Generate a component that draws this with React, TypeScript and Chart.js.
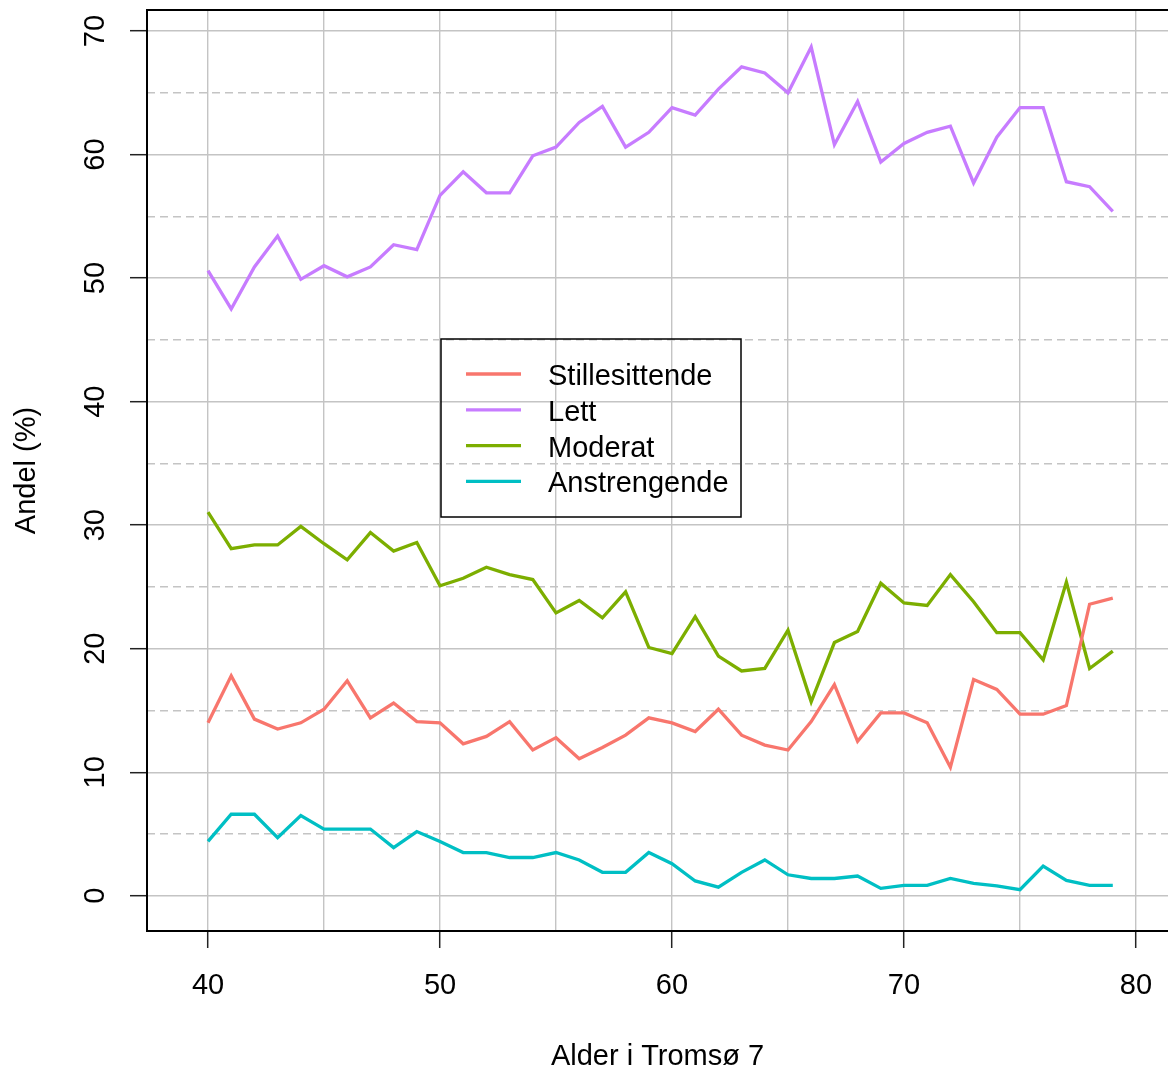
import React, { useEffect, useRef } from 'react';
import { Chart, registerables } from 'chart.js';

Chart.register(...registerables);

const ages = [40, 41, 42, 43, 44, 45, 46, 47, 48, 49, 50, 51, 52, 53, 54, 55, 56, 57, 58, 59, 60, 61, 62, 63, 64, 65, 66, 67, 68, 69, 70, 71, 72, 73, 74, 75, 76, 77, 78, 79];

const seriesNames = ['Stillesittende', 'Lett', 'Moderat', 'Anstrengende'];

const stillesittende = [14.0, 17.8, 14.3, 13.5, 14.0, 15.1, 17.4, 14.4, 15.6, 14.1, 14.0, 12.3, 12.9, 14.1, 11.8, 12.8, 11.1, 12.0, 13.0, 14.4, 14.0, 13.3, 15.1, 13.0, 12.2, 11.8, 14.1, 17.1, 12.5, 14.8, 14.8, 14.0, 10.4, 17.5, 16.7, 14.7, 14.7, 15.4, 23.6, 24.1];
const lett = [50.6, 47.5, 50.9, 53.4, 49.9, 51.0, 50.1, 50.9, 52.7, 52.3, 56.7, 58.6, 56.9, 56.9, 59.9, 60.6, 62.6, 63.9, 60.6, 61.8, 63.8, 63.2, 65.3, 67.1, 66.6, 65.0, 68.7, 60.8, 64.3, 59.4, 60.9, 61.8, 62.3, 57.7, 61.4, 63.8, 63.8, 57.8, 57.4, 55.4];
const moderat = [31.05, 28.1, 28.4, 28.4, 29.9, 28.5, 27.2, 29.4, 27.9, 28.6, 25.1, 25.7, 26.6, 26.0, 25.6, 22.9, 23.9, 22.5, 24.6, 20.1, 19.6, 22.6, 19.4, 18.2, 18.4, 21.5, 15.7, 20.5, 21.4, 25.3, 23.7, 23.5, 26.0, 23.8, 21.3, 21.3, 19.1, 25.4, 18.4, 19.8];
const anstrengende = [4.4, 6.6, 6.6, 4.7, 6.5, 5.4, 5.4, 5.4, 3.9, 5.2, 4.4, 3.5, 3.5, 3.1, 3.1, 3.5, 2.9, 1.9, 1.9, 3.5, 2.6, 1.2, 0.7, 1.9, 2.9, 1.7, 1.4, 1.4, 1.6, 0.6, 0.85, 0.85, 1.4, 1.0, 0.8, 0.5, 2.4, 1.25, 0.85, 0.85];

const seriesValues = [stillesittende, lett, moderat, anstrengende];
const seriesColors = ['#F8766D', '#C77CFF', '#7CAE00', '#00BFC4'];

const xTitle = 'Alder i Tromsø 7';
const yTitle = 'Andel (%)';

const FONT = "'Liberation Sans', Arial, sans-serif";
const FONT_SIZE = 29;

const boxPlugin = {
  id: 'rbox',
  afterDraw(chart: any) {
    const { ctx, chartArea } = chart;
    ctx.save();
    ctx.strokeStyle = '#000';
    ctx.lineWidth = 2;
    ctx.strokeRect(chartArea.left, chartArea.top, chartArea.right - chartArea.left + 2, chartArea.bottom - chartArea.top);
    ctx.restore();
  },
};

const legendPlugin = {
  id: 'rlegend',
  afterDatasetsDraw(chart: any) {
    const { ctx } = chart;
    const bx = 441, by = 339, bw = 300, bh = 178;
    const rowY0 = 374, rowStep = 35.8;
    ctx.save();
    ctx.strokeStyle = '#000';
    ctx.lineWidth = 1.5;
    ctx.strokeRect(bx, by, bw, bh);
    ctx.font = `${FONT_SIZE}px ${FONT}`;
    ctx.textBaseline = 'middle';
    ctx.textAlign = 'left';
    chart.data.datasets.forEach((ds: any, i: number) => {
      const y = rowY0 + i * rowStep;
      ctx.strokeStyle = ds.borderColor;
      ctx.lineWidth = 3.3;
      ctx.beginPath();
      ctx.moveTo(466, y);
      ctx.lineTo(521, y);
      ctx.stroke();
      ctx.fillStyle = '#000';
      ctx.fillText(ds.label, 548, y + 3);
    });
    ctx.restore();
  },
};

export default function App() {
  const ref = useRef<HTMLCanvasElement | null>(null);

  useEffect(() => {
    document.body.style.margin = '0';
    const canvas = ref.current;
    if (!canvas) return;
    const datasets = seriesNames.map((name, i) => ({
      label: name,
      data: ages.map((a, j) => ({ x: a, y: seriesValues[i][j] })),
      borderColor: seriesColors[i],
      backgroundColor: seriesColors[i],
      borderWidth: 3.3,
      pointRadius: 0,
      tension: 0,
      fill: false,
    }));

    const chart = new Chart(canvas, {
      type: 'line',
      data: { datasets },
      options: {
        responsive: false,
        animation: false,
        devicePixelRatio: 1,
        layout: { padding: { top: 10, right: 0, left: 0, bottom: 0 } },
        plugins: {
          legend: { display: false },
          tooltip: { enabled: false },
        },
        scales: {
          x: {
            type: 'linear',
            min: 37.37,
            max: 81.38,
            afterFit(scale: any) {
              scale.height = 143;
              scale.paddingLeft = 0;
              scale.paddingRight = 0;
            },
            border: { display: false },
            grid: {
              color: '#c4c4c4',
              lineWidth: 1.4,
              tickLength: 17,
              tickWidth: 1.5,
              tickColor: (c: any) => (c.tick && c.tick.value % 10 === 0 ? '#222' : 'rgba(0,0,0,0)'),
            },
            ticks: {
              stepSize: 5,
              includeBounds: false,
              autoSkip: false,
              maxRotation: 0,
              minRotation: 0,
              padding: 21,
              color: '#000',
              font: { family: FONT, size: FONT_SIZE },
              callback: (v: any) => (Number(v) % 10 === 0 ? String(v) : ''),
            },
            title: {
              display: true,
              text: xTitle,
              color: '#000',
              font: { family: FONT, size: FONT_SIZE },
              padding: { top: 0, bottom: 0 },
            },
          },
          y: {
            type: 'linear',
            min: -2.85,
            max: 71.7,
            afterFit(scale: any) {
              scale.width = 147;
              scale.paddingTop = 0;
              scale.paddingBottom = 0;
            },
            border: {
              display: false,
              dash: (c: any) => (c.tick && c.tick.value % 10 !== 0 ? [8, 5] : []),
            },
            grid: {
              color: '#c4c4c4',
              lineWidth: 1.4,
              tickLength: 17,
              tickWidth: 1.5,
              tickColor: (c: any) => (c.tick && c.tick.value % 10 === 0 ? '#222' : 'rgba(0,0,0,0)'),
            },
            ticks: {
              stepSize: 5,
              includeBounds: false,
              autoSkip: false,
              minRotation: 90,
              maxRotation: 90,
              crossAlign: 'center',
              padding: 18,
              color: '#000',
              font: { family: FONT, size: FONT_SIZE },
              callback: (v: any) => (Number(v) % 10 === 0 ? String(v) : ''),
            },
            title: {
              display: true,
              text: yTitle,
              color: '#000',
              font: { family: FONT, size: FONT_SIZE },
              padding: { top: 10, bottom: 0 },
            },
          },
        },
      },
      plugins: [boxPlugin, legendPlugin],
    } as any);

    return () => chart.destroy();
  }, []);

  return (
    <div style={{ position: 'absolute', left: 0, top: 0, width: 1168, height: 1074, background: '#fff' }}>
      <canvas ref={ref} width={1168} height={1074} style={{ display: 'block', width: 1168, height: 1074 }} />
    </div>
  );
}
